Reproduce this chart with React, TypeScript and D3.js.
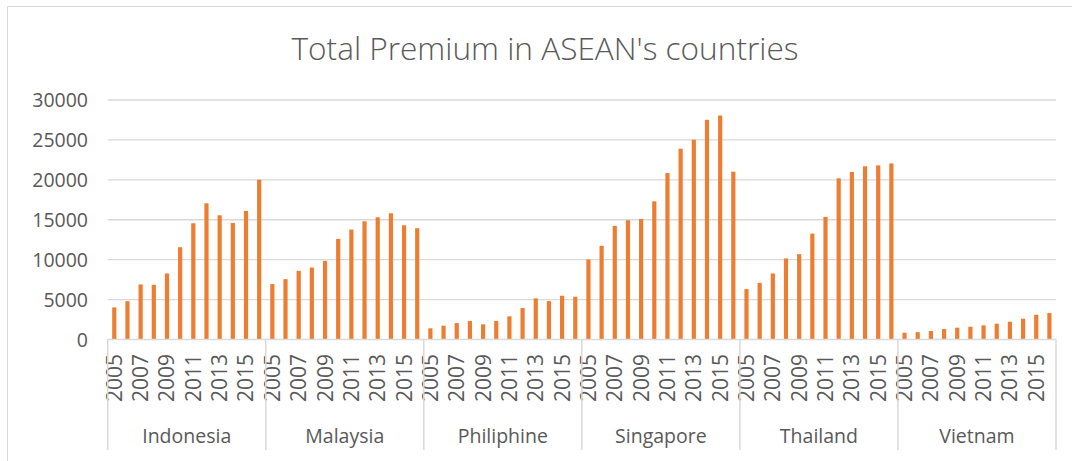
import React from "react";
import * as d3 from "d3";

const countries = ["Indonesia", "Malaysia", "Philiphine", "Singapore", "Thailand", "Vietnam"];
const years = [2005, 2006, 2007, 2008, 2009, 2010, 2011, 2012, 2013, 2014, 2015, 2016];
const indonesia = [4020, 4800, 6900, 6850, 8270, 11560, 14560, 17060, 15560, 14600, 16100, 20020];
const malaysia = [6940, 7560, 8600, 9020, 9850, 12600, 13770, 14810, 15310, 15810, 14310, 13940];
const philiphine = [1400, 1730, 2060, 2310, 1900, 2310, 2900, 3940, 5150, 4810, 5480, 5350];
const singapore = [10020, 11730, 14230, 14940, 15100, 17310, 20850, 23900, 25020, 27520, 28060, 21020];
const thailand = [6310, 7100, 8270, 10150, 10690, 13270, 15350, 20190, 20980, 21690, 21810, 22060];
const vietnam = [850, 920, 1060, 1310, 1480, 1600, 1770, 1980, 2230, 2600, 3100, 3310];
const yTicks = [0, 5000, 10000, 15000, 20000, 25000, 30000];
const title = "Total Premium in ASEAN's countries";

const seriesByCountry = [indonesia, malaysia, philiphine, singapore, thailand, vietnam];

export default function App() {
  const W = 1072, H = 461;
  const left = 107.7, right = 1056, top = 100, bottom = 339.5;
  const font = "'Open Sans', sans-serif";
  const textColor = "#595959";
  const grid = "#d9d9d9";

  const x0 = d3.scaleBand<string>().domain(countries).range([left, right]).padding(0);
  const x1 = d3.scaleBand<string>().domain(years.map(String)).range([0, x0.bandwidth()]).padding(0);
  const y = d3.scaleLinear().domain([0, 30000]).range([bottom, top]);
  const barW = x1.bandwidth() / 3.15;

  return (
    <svg width={W} height={H} style={{ position: "absolute", left: 0, top: 0, background: "#fff" }}>
      <rect x={7.5} y={6.5} width={W + 10} height={H + 10} fill="#fff" stroke="#d9d9d9" strokeWidth={1} />
      <text x={545} y={59.5} textAnchor="middle" fontFamily={font} fontWeight={300} fontSize={31.6} fill={textColor}>{title}</text>
      {yTicks.map((t) => (
        <g key={t}>
          {t > 0 && <line x1={left} x2={right} y1={y(t)} y2={y(t)} stroke={grid} strokeWidth={1.3} />}
          <text x={88} y={y(t) + 7} textAnchor="end" fontFamily={font} fontSize={19.5} fill={textColor}>{t}</text>
        </g>
      ))}
      {countries.map((c, ci) => (
        <g key={c}>
          {seriesByCountry[ci].map((v, i) => {
            const cx = (x0(c) as number) + (x1(String(years[i])) as number) + x1.bandwidth() / 2;
            return <rect key={i} x={cx - barW / 2} y={y(v)} width={barW} height={y(0) - y(v)} fill="#ED7D31" />;
          })}
          {years.map((yr, i) => {
            if (i % 2 !== 0) return null;
            const cx = (x0(c) as number) + (x1(String(yr)) as number) + x1.bandwidth() / 2;
            return (
              <text key={yr} transform={`translate(${cx + 7.5},${354}) rotate(-90)`} textAnchor="end"
                fontFamily={font} fontSize={21} fill={textColor}>{yr}</text>
            );
          })}
          <text x={(x0(c) as number) + x0.bandwidth() / 2} y={443} textAnchor="middle" fontFamily={font} fontSize={19.5} fill={textColor}>{c}</text>
        </g>
      ))}
      <line x1={left} x2={right} y1={bottom} y2={bottom} stroke={grid} strokeWidth={1.5} />
      {[...countries.map((c) => x0(c) as number), right].map((xv, i) => (
        <line key={i} x1={xv} x2={xv} y1={bottom} y2={450} stroke={grid} strokeWidth={1.5} />
      ))}
    </svg>
  );
}
